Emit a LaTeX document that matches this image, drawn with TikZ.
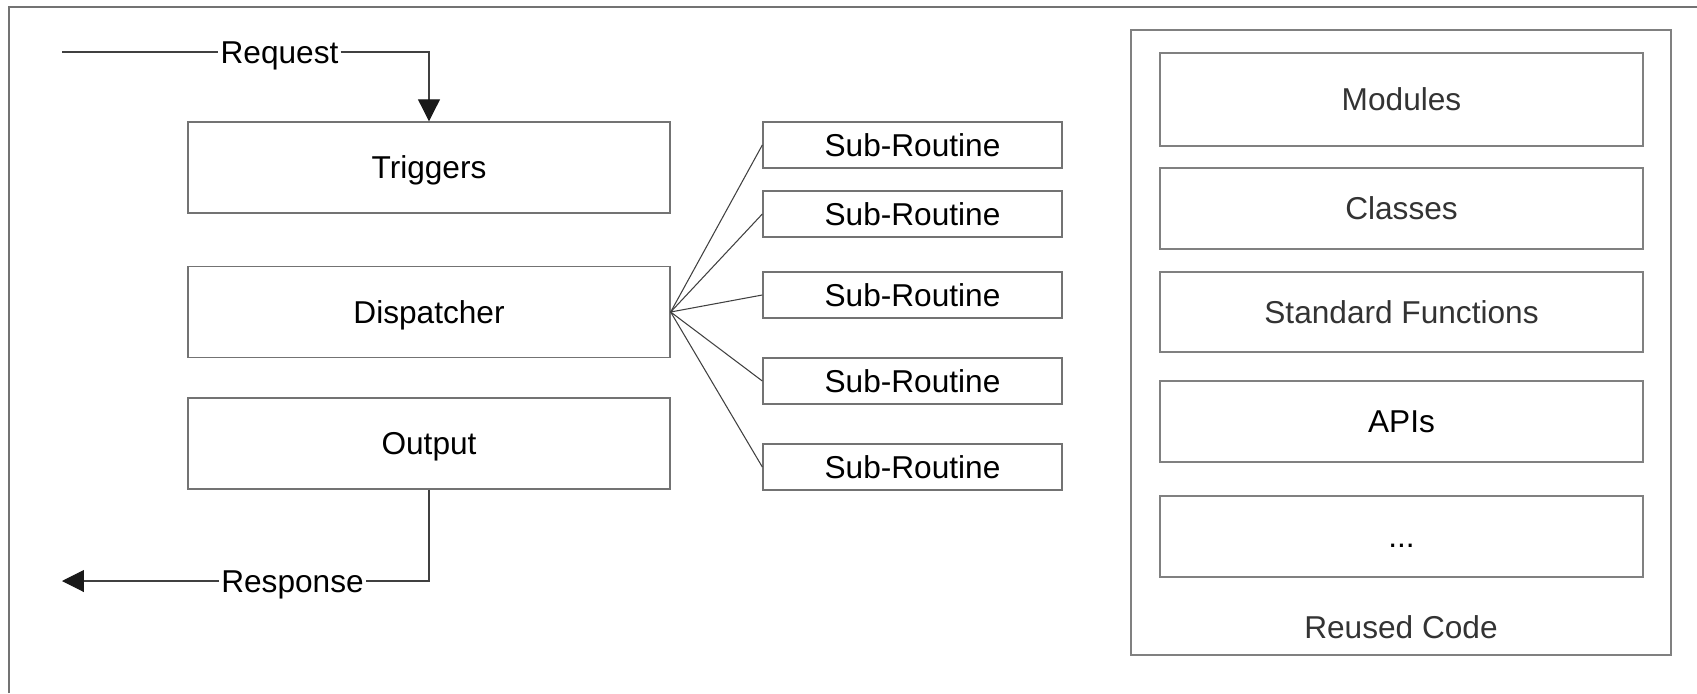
\documentclass[tikz,border=0pt]{standalone}
\usepackage{fontspec}
\setmainfont{Liberation Sans}
\usetikzlibrary{positioning, arrows.meta}

\begin{document}
\begin{tikzpicture}[x=0.02cm, y=-0.02cm,
            every node/.style={font=\fontsize{18}{21}\selectfont,
                    text height=13pt, text depth=0pt},
            block/.style={draw=black!55, line width=0.8pt,
                    minimum width=9.64cm, minimum height=1.82cm},
            subroutine/.style={draw=black!55, line width=0.8pt,
                    minimum width=5.98cm, minimum height=0.92cm},
            library/.style={draw=black!50, line width=0.8pt, text=black!80,
                    minimum width=9.66cm, minimum height=1.62cm},
            flowlabel/.style={inner sep=1pt},
            link/.style={draw=black!75, line width=0.6pt},
            tip/.style={-{Triangle[width=0.44cm, length=0.44cm, color=black!90]}},
        ]

        \useasboundingbox (0,0) rectangle (1697,693);
        \draw[black!55, line width=1pt] (9,693) -- (9,7) -- (1697,7);

        % request handling
        \node[block] (trig) at (429,167.5) {Triggers};
        \node[block] (disp) at (429,312) {Dispatcher};
        \node[block] (out) at (429,443.5) {Output};

        \foreach \y [count=\i] in {145,214,295,381,467} {
            \node[subroutine] (sub\i) at (912.5,\y) {Sub-Routine};
            \draw[link] (disp.east) -- (sub\i.west);
        }

        \coordinate (reqin) at (62,52);
        \node[flowlabel] (req) at (279.5,52) {Request};
        \draw[link] (reqin) -- (req);
        \draw[link, tip] (req) -| (trig.north);

        \coordinate (respout) at (62,581);
        \node[flowlabel] (resp) at (292.5,581) {Response};
        \draw[link] (out.south) |- (resp);
        \draw[link, tip] (resp) -- (respout);

        % reused code
        \node[draw=black!50, line width=0.8pt, minimum width=10.8cm,
            minimum height=12.5cm] (reuse) at (1401,342.5) {};
        \node[text=black!80] (reuselabel) at (1401,627) {Reused Code};

        \node[library, minimum height=1.86cm] (mod) at (1401.5,99.5) {Modules};
        \node[library] (cls) at (1401.5,208.5) {Classes};
        \node[library, minimum height=1.6cm] (std) at (1401.5,312) {Standard Functions};
        \node[library, text=black] (api) at (1401.5,421.5) {APIs};
        \node[library, text=black] (more) at (1401.5,536.5) {...};

    \end{tikzpicture}
\end{document}
